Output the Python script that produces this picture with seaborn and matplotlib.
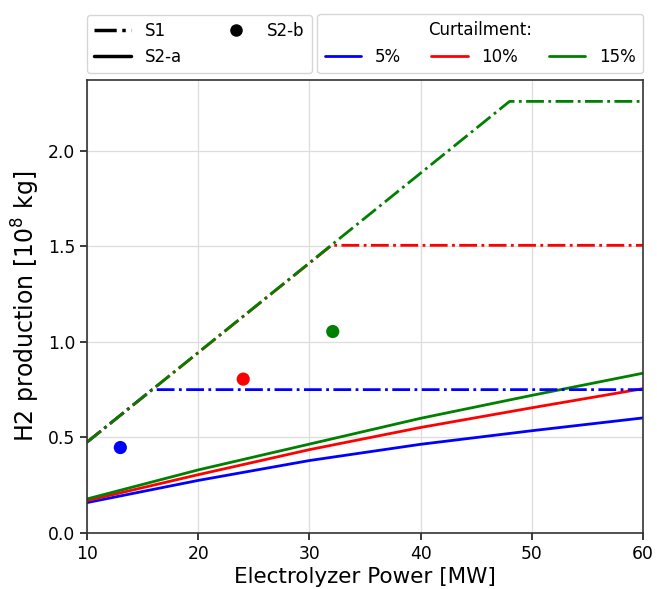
import numpy as np
import pandas as pd
import matplotlib
matplotlib.use("Agg")
import matplotlib.pyplot as plt
import seaborn as sns
from matplotlib.lines import Line2D

# 곡선 데이터
curtail = ['5%', '10%', '15%']
colors = ['blue', 'red', 'green']

# S1 : 선형 증가 후 포화
s1_x = {'5%': [10, 15.85, 60], '10%': [10, 32.0, 60], '15%': [10, 48.0, 60]}
s1_y = {'5%': [0.475, 0.750, 0.750], '10%': [0.475, 1.505, 1.505], '15%': [0.475, 2.258, 2.258]}

# S2-a
s2a_x = [10, 20, 30, 40, 50, 60]
s2a_y = {'5%': [0.159, 0.275, 0.379, 0.464, 0.535, 0.602],
         '10%': [0.169, 0.305, 0.436, 0.552, 0.655, 0.755],
         '15%': [0.178, 0.330, 0.465, 0.600, 0.720, 0.836]}

# S2-b
s2b_x = [13.0, 24.05, 32.1]
s2b_y = [0.447, 0.805, 1.054]

sns.set_theme(style='ticks')
plt.rcParams['font.family'] = ['DejaVu Sans']
plt.rcParams.update({'text.color': 'black', 'axes.labelcolor': 'black',
                     'xtick.color': 'black', 'ytick.color': 'black'})

fig = plt.figure(figsize=(6.57, 5.89), dpi=100)
ax = fig.add_axes([0.1324, 0.0951, 0.8463, 0.7691])

for c, col in zip(curtail, colors):
    sns.lineplot(x=s2a_x, y=s2a_y[c], color=col, lw=2, ax=ax)
for c, col in zip(curtail, colors):
    sns.lineplot(x=s1_x[c], y=s1_y[c], color=col, lw=2, linestyle='-.', ax=ax)
sns.scatterplot(x=s2b_x, y=s2b_y, hue=curtail, palette=colors, s=90, edgecolor='none',
                legend=False, ax=ax, zorder=3)

ax.set_xlim(10, 60)
ax.set_ylim(0, 2.37)
ax.set_xticks([10, 20, 30, 40, 50, 60])
ax.set_yticks([0.0, 0.5, 1.0, 1.5, 2.0])
ax.grid(True, color='#dddddd', lw=0.9)
ax.tick_params(labelsize=12.3, length=5, color='#222222')
for sp in ax.spines.values():
    sp.set_color('#333333')
    sp.set_linewidth(1.2)
ax.set_xlabel('Electrolyzer Power [MW]', fontsize=15.5, labelpad=3)
ax.set_ylabel('H2 production [$10^8$ kg]', fontsize=17, labelpad=4)

h1 = [Line2D([], [], color='black', lw=2.5, linestyle='-.'),
      Line2D([], [], color='black', lw=2.5),
      Line2D([], [], color='black', marker='o', ms=8, lw=0)]
leg1 = ax.legend(h1, ['S1', 'S2-a', 'S2-b'], ncol=2, loc='lower left',
                 bbox_to_anchor=(0, 1.015, 0.405, 0.13), mode='expand',
                 fontsize=12, frameon=True, borderaxespad=0, handlelength=2.2,
                 labelspacing=0.45, borderpad=0.45)
ax.add_artist(leg1)
h2 = [Line2D([], [], color=col, lw=2) for col in colors]
ax.legend(h2, curtail, ncol=3, title='Curtailment:', title_fontsize=12, loc='lower left',
          bbox_to_anchor=(0.414, 1.015, 0.586, 0.13), mode='expand',
          fontsize=12, frameon=True, borderaxespad=0, handlelength=2.2, borderpad=0.45)

fig.savefig('out.png', dpi=100)
